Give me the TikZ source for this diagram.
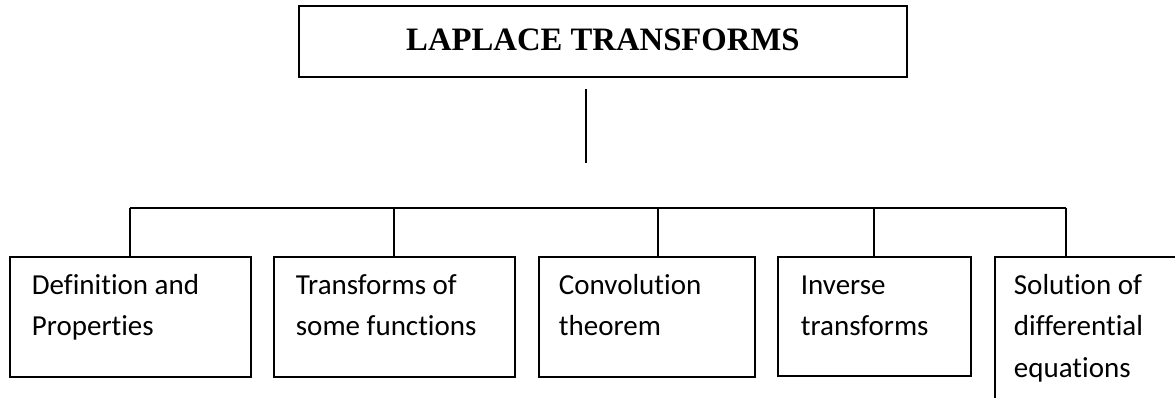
\documentclass[tikz,border=0pt]{standalone}
\usepackage{fontspec}
\setmainfont{Carlito}[Ligatures={NoCommon}, RawFeature={-liga;-clig}]
\newfontfamily\titlefont{Liberation Serif}
\begin{document}
\begin{tikzpicture}[x=1pt,y=-1pt,
  line width=1.8pt,
  box/.style={draw, rectangle, inner sep=0pt, anchor=north west},
  txt/.style={inner sep=0pt, anchor=base west, text width=200pt, align=left,
              font=\fontsize{29}{41.8}\selectfont,
              execute at begin node={\spaceskip=0pt\xspaceskip=0pt\relax}},
  conn/.style={draw, line width=1.8pt}]
\useasboundingbox (0,0) rectangle (1175,398);
\clip (0,0) rectangle (1175,398);
% title
\node[box, minimum width=608pt, minimum height=71pt,
      font=\titlefont\bfseries\fontsize{32.7}{36}\selectfont] (title) at (298,5)
      {\raisebox{4.2pt}{LAPLACE TRANSFORMS}};
% detached stem
\coordinate (s1) at (586,89);
\coordinate (s2) at (586,163);
\draw[conn] (s1) -- (s2);
% boxes
\node[box, minimum width=241pt, minimum height=120pt] (b1) at (9,256) {};
\node[box, minimum width=241pt, minimum height=120pt] (b2) at (273,256) {};
\node[box, minimum width=216pt, minimum height=120pt] (b3) at (538,256) {};
\node[box, minimum width=193pt, minimum height=119pt] (b4) at (777,256) {};
\node[box, minimum width=300pt, minimum height=220pt] (b5) at (994,256) {};
% texts
\node[txt, xshift=22pt, yshift=-38pt] (t1) at (b1.north west) {Definition and\\Properties};
\node[txt, xshift=22pt, yshift=-38pt] (t2) at (b2.north west) {Transforms of\\some functions};
\node[txt, xshift=20pt, yshift=-38pt] (t3) at (b3.north west) {Convolution\\theorem};
\node[txt, xshift=23pt, yshift=-38pt] (t4) at (b4.north west) {Inverse\\transforms};
\node[txt, xshift=19pt, yshift=-38pt] (t5) at (b5.north west) {Solution of\\differential\\equations};
% bus
\coordinate (j1) at (130,208);
\coordinate (j2) at (394,208);
\coordinate (j3) at (658,208);
\coordinate (j4) at (874,208);
\coordinate (j5) at (1066,208);
\draw[conn] (j1) -- (j5);
\draw[conn] (j1) -- (j1 |- b1.north);
\draw[conn] (j2) -- (j2 |- b2.north);
\draw[conn] (j3) -- (j3 |- b3.north);
\draw[conn] (j4) -- (j4 |- b4.north);
\draw[conn] (j5) -- (j5 |- b5.north);
\end{tikzpicture}
\end{document}
